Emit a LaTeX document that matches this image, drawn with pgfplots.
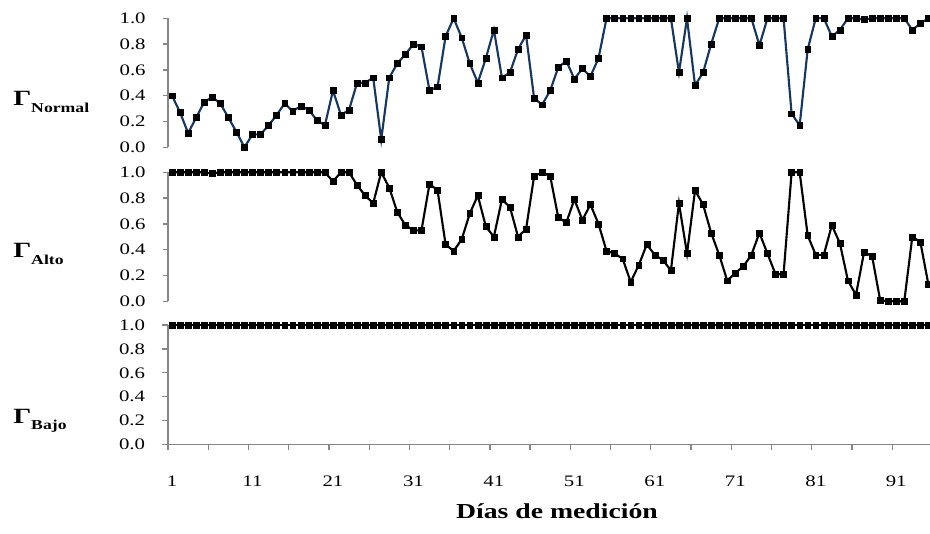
\documentclass[border=0pt]{standalone}
\usepackage{pgfplots}
\pgfplotsset{compat=1.18}
\usepackage{pgfplotstable}
\usepackage{fontspec}
\setmainfont[FakeStretch=1.3]{Liberation Serif}

\definecolor{ejegris}{RGB}{134,134,134}
\definecolor{azulserie}{RGB}{23,55,94}

% one pixel of the layout grid
\def\pxu{0.75pt}

\pgfplotstableread{
dia valor
1 0.40
2 0.27
3 0.11
4 0.23
5 0.35
6 0.39
7 0.34
8 0.23
9 0.12
10 0.00
11 0.10
12 0.10
13 0.17
14 0.25
15 0.34
16 0.28
17 0.32
18 0.29
19 0.21
20 0.17
21 0.44
22 0.25
23 0.29
24 0.50
25 0.50
26 0.54
27 0.06
28 0.54
29 0.65
30 0.72
31 0.80
32 0.78
33 0.44
34 0.47
35 0.86
36 1.00
37 0.85
38 0.65
39 0.50
40 0.69
41 0.91
42 0.54
43 0.58
44 0.76
45 0.87
46 0.38
47 0.33
48 0.44
49 0.62
50 0.67
51 0.53
52 0.61
53 0.55
54 0.69
55 1.00
56 1.00
57 1.00
58 1.00
59 1.00
60 1.00
61 1.00
62 1.00
63 1.00
64 0.58
65 1.00
66 0.48
67 0.58
68 0.80
69 1.00
70 1.00
71 1.00
72 1.00
73 1.00
74 0.79
75 1.00
76 1.00
77 1.00
78 0.26
79 0.17
80 0.76
81 1.00
82 1.00
83 0.86
84 0.91
85 1.00
86 1.00
87 0.99
88 1.00
89 1.00
90 1.00
91 1.00
92 1.00
93 0.91
94 0.96
95 1.00
}\tablanormal

\pgfplotstableread{
dia valor
1 1.00
2 1.00
3 1.00
4 1.00
5 1.00
6 0.99
7 1.00
8 1.00
9 1.00
10 1.00
11 1.00
12 1.00
13 1.00
14 1.00
15 1.00
16 1.00
17 1.00
18 1.00
19 1.00
20 1.00
21 0.93
22 1.00
23 1.00
24 0.90
25 0.82
26 0.76
27 1.00
28 0.88
29 0.69
30 0.59
31 0.55
32 0.55
33 0.91
34 0.86
35 0.44
36 0.39
37 0.48
38 0.68
39 0.82
40 0.58
41 0.50
42 0.79
43 0.73
44 0.50
45 0.56
46 0.97
47 1.00
48 0.97
49 0.65
50 0.61
51 0.79
52 0.63
53 0.75
54 0.60
55 0.39
56 0.37
57 0.33
58 0.15
59 0.28
60 0.44
61 0.36
62 0.32
63 0.24
64 0.76
65 0.37
66 0.86
67 0.75
68 0.53
69 0.36
70 0.16
71 0.22
72 0.27
73 0.36
74 0.53
75 0.37
76 0.21
77 0.21
78 1.00
79 1.00
80 0.51
81 0.36
82 0.36
83 0.59
84 0.45
85 0.16
86 0.05
87 0.38
88 0.35
89 0.01
90 0.00
91 0.00
92 0.00
93 0.50
94 0.46
95 0.13
}\tablaalto

\pgfplotstableread{
dia valor
1 1.00
2 1.00
3 1.00
4 1.00
5 1.00
6 1.00
7 1.00
8 1.00
9 1.00
10 1.00
11 1.00
12 1.00
13 1.00
14 1.00
15 1.00
16 1.00
17 1.00
18 1.00
19 1.00
20 1.00
21 1.00
22 1.00
23 1.00
24 1.00
25 1.00
26 1.00
27 1.00
28 1.00
29 1.00
30 1.00
31 1.00
32 1.00
33 1.00
34 1.00
35 1.00
36 1.00
37 1.00
38 1.00
39 1.00
40 1.00
41 1.00
42 1.00
43 1.00
44 1.00
45 1.00
46 1.00
47 1.00
48 1.00
49 1.00
50 1.00
51 1.00
52 1.00
53 1.00
54 1.00
55 1.00
56 1.00
57 1.00
58 1.00
59 1.00
60 1.00
61 1.00
62 1.00
63 1.00
64 1.00
65 1.00
66 1.00
67 1.00
68 1.00
69 1.00
70 1.00
71 1.00
72 1.00
73 1.00
74 1.00
75 1.00
76 1.00
77 1.00
78 1.00
79 1.00
80 1.00
81 1.00
82 1.00
83 1.00
84 1.00
85 1.00
86 1.00
87 1.00
88 1.00
89 1.00
90 1.00
91 1.00
92 1.00
93 1.00
94 1.00
95 1.00
}\tablabajo

\pgfplotsset{
  panel/.style={
    scale only axis,
    width=571.5pt,
    height=96.75pt,
    xmin=0.5, xmax=95.2,
    ymin=0, ymax=1,
    clip=false,
    axis y line*=left,
    y axis line style={ejegris, line width=1.2pt, -},
    ytick={0,0.2,0.4,0.6,0.8,1},
    yticklabels={0.0,0.2,0.4,0.6,0.8,1.0},
    tick align=outside,
    major tick length=3.75pt,
    every tick/.style={ejegris, line width=1pt},
    yticklabel style={font=\fontsize{12}{12}\selectfont, xshift=-9.5pt},
  },
  serie/.style={
    line width=1.6pt,
    mark=square*,
    mark size=2.2pt,
    mark options={solid, fill=black, draw=black, line width=0.3pt},
  },
}

\begin{document}
\begin{tikzpicture}

% Gamma normal
\begin{axis}[panel, axis x line=none,
  at={(168*\pxu,-147.3*\pxu)}, anchor=south west]
  \addplot[serie, azulserie] table[x=dia, y=valor] {\tablanormal};
\end{axis}

% Gamma alto
\begin{axis}[panel, axis x line=none,
  at={(168*\pxu,-301.3*\pxu)}, anchor=south west]
  \addplot[serie, black] table[x=dia, y=valor] {\tablaalto};
\end{axis}

% Gamma bajo, with the day axis
\begin{axis}[panel, height=89.6pt,
  at={(168*\pxu,-444.5*\pxu)}, anchor=south west,
  axis x line*=bottom,
  x axis line style={ejegris, line width=1.2pt, -},
  major tick length=4.2pt,
  xtick={0.5,5.5,...,90.5},
  xticklabels={},
  extra x ticks={1,11,21,31,41,51,61,71,81,91},
  extra x tick labels={1,11,21,31,41,51,61,71,81,91},
  extra x tick style={major tick length=0pt,
    xticklabel style={font=\fontsize{12}{12}\selectfont, anchor=base, yshift=-31.6pt}},
  ]
  \addplot[serie, black] table[x=dia, y=valor] {\tablabajo};
\end{axis}

% row labels
\node[anchor=base west, inner sep=0pt] at (13*\pxu,-106*\pxu)
  {\fontsize{16.3}{16}\bfseries Γ\raisebox{-4.8pt}{\fontsize{10.2}{10}\selectfont Normal}};
\node[anchor=base west, inner sep=0pt] at (13*\pxu,-257.7*\pxu)
  {\fontsize{16.3}{16}\bfseries Γ\raisebox{-4.8pt}{\fontsize{10.2}{10}\selectfont Alto}};
\node[anchor=base west, inner sep=0pt] at (13*\pxu,-423.3*\pxu)
  {\fontsize{16.3}{16}\bfseries Γ\raisebox{-4.8pt}{\fontsize{10.2}{10}\selectfont Bajo}};

% day axis title
\node[anchor=base, inner sep=0pt] at (557*\pxu,-518*\pxu)
  {\fontsize{16}{16}\bfseries Días de medición};

\pgfresetboundingbox
\path[use as bounding box] (0,0) rectangle (930*\pxu,-534*\pxu);
\end{tikzpicture}
\end{document}
